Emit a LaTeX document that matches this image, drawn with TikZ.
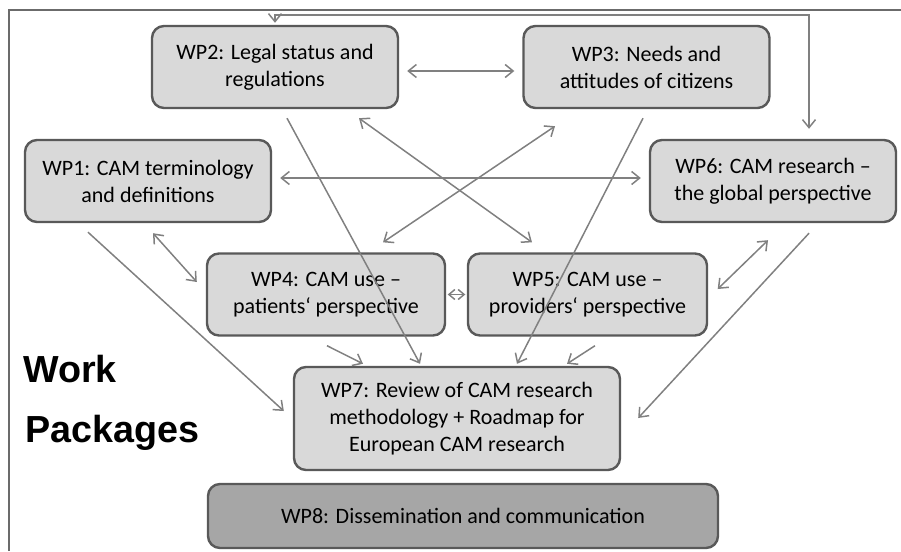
\documentclass[tikz,border=0pt]{standalone}
\usepackage{fontspec}
\setmainfont{Carlito}
\newfontfamily\headfont{Liberation Sans}
\usetikzlibrary{arrows, arrows.meta}
\definecolor{boxfill}{HTML}{D9D9D9}
\definecolor{boxdark}{HTML}{A6A6A6}
\definecolor{boxline}{HTML}{595959}
\definecolor{linkgray}{HTML}{808080}
\definecolor{framegray}{HTML}{6B6B6B}

\begin{document}
\begin{tikzpicture}[x=1pt, y=-1pt,
        wp/.style = {draw=boxline, fill=boxfill, line width=2.4pt, rounded corners=12pt,
                     minimum width=246pt, minimum height=82pt, inner sep=0pt, align=center,
                     font=\fontsize{22}{27}\selectfont},
        link/.style = {draw=linkgray, line width=1.5pt, >={Straight Barb[length=8pt,width=13pt]}},
        gap/.style = {shorten <=8pt, shorten >=8pt}]
        \useasboundingbox (0, 0) rectangle (901, 551);
        \draw[framegray, line width=2.8pt] (9, 551) -- (9, 10) -- (901, 10);
        % work packages
        \node[wp] (wp2) at (275, 67) {WP2: Legal status and\\regulations};
        \node[wp] (wp3) at (646.5, 67) {WP3: Needs and\\attitudes of citizens};
        \node[wp] (wp1) at (148, 181) {WP1: CAM terminology\\and definitions};
        \node[wp] (wp6) at (773, 181) {WP6: CAM research --\\the global perspective};
        \node[wp, minimum width=238pt] (wp4) at (326, 294.5) {WP4: CAM use --\\patients‘ perspective};
        \node[wp, minimum width=239pt] (wp5) at (587.5, 294.5) {WP5: CAM use --\\providers‘ perspective};
        \node[wp, minimum width=326pt, minimum height=103pt] (wp7) at (457, 418.5) {WP7: Review of CAM research\\methodology + Roadmap for\\European CAM research};
        \node[wp, fill=boxdark, minimum width=510pt, minimum height=64pt] (wp8) at (463, 516) {WP8: Dissemination and communication};
        \node[anchor=base west, font=\headfont\bfseries\fontsize{37.7}{40}\selectfont, inner sep=0pt] (work) at (23, 382) {Work};
        \node[anchor=base west, font=\headfont\bfseries\fontsize{37.7}{40}\selectfont, inner sep=0pt] (packages) at (25, 442) {Packages};
        % links
        \draw[link, <->] ([yshift=2pt]wp2.north) |- ([xshift=36pt, yshift=124pt]wp6.north) -- ([xshift=36pt, yshift=10pt]wp6.north);
        \draw[link, gap, <->] ([yshift=-4pt]wp2.east) -- ([yshift=-4pt]wp3.west);
        \draw[link, gap, <->] ([yshift=3pt]wp1.east) -- ([yshift=3pt]wp6.west);
        \draw[link, <->] ([xshift=84pt, yshift=-9pt]wp2.south) -- ([xshift=-55.5pt, yshift=10pt]wp5.north);
        \draw[link, <->] ([xshift=-91.5pt, yshift=-17pt]wp3.south) -- ([xshift=57pt, yshift=10pt]wp4.north);
        \draw[link, ->] ([xshift=12pt, yshift=-9pt]wp2.south) -- ([xshift=-37pt, yshift=2pt]wp7.north);
        \draw[link, ->] ([xshift=-3.5pt, yshift=-9pt]wp3.south) -- ([xshift=60pt, yshift=2pt]wp7.north);
        \draw[link, ->] ([xshift=-60pt, yshift=-9pt]wp1.south) -- ([xshift=-9pt, yshift=7.5pt]wp7.west);
        \draw[link, <->] ([xshift=5pt, yshift=-10pt]wp1.south) -- ([xshift=-9pt, yshift=12.5pt]wp4.west);
        \draw[link, <->, >={Straight Barb[length=6pt,width=10pt]}, shorten <=1.5pt, shorten >=1.5pt] (wp4.east) -- (wp5.west);
        \draw[link, <->] ([xshift=-5pt, yshift=-17pt]wp6.south) -- ([xshift=9.5pt, yshift=5.5pt]wp5.east);
        \draw[link, ->] ([xshift=36pt, yshift=-10pt]wp6.south) -- ([xshift=17pt, yshift=0.5pt]wp7.east);
        \draw[link, ->] ([xshift=1pt, yshift=-9pt]wp4.south) -- ([xshift=-94pt, yshift=2pt]wp7.north);
        \draw[link, ->] ([xshift=7.5pt, yshift=-9pt]wp5.south) -- ([xshift=110pt, yshift=2pt]wp7.north);
    \end{tikzpicture}
\end{document}
